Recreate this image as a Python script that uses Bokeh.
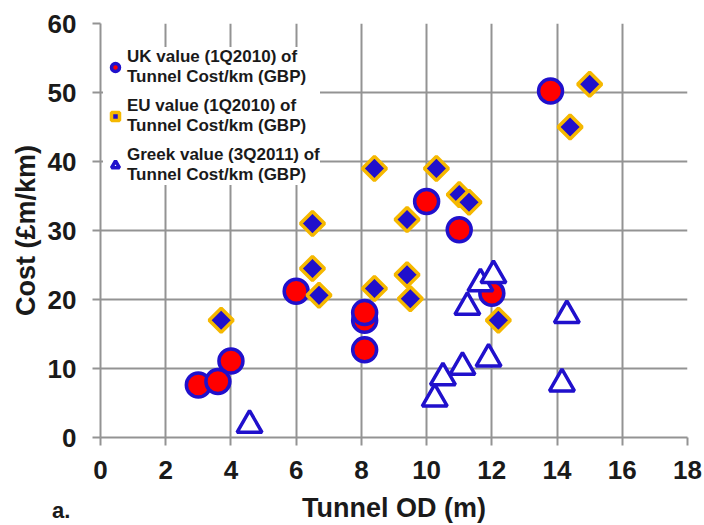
import numpy as np
from bokeh.plotting import figure
from bokeh.layouts import column
from bokeh.models import Legend, LegendItem, Div, FixedTicker, Range1d
from bokeh.embed import file_html
from bokeh.resources import INLINE

# UK value (1Q2010)
uk_od = [3.0, 3.6, 4.0, 6.0, 8.1, 8.1, 8.1, 10.0, 11.0, 12.0, 13.8]
uk_cost = [7.6, 8.1, 11.1, 21.2, 17.0, 18.1, 12.7, 34.2, 30.1, 20.9, 50.2]

# EU value (1Q2010)
eu_od = [3.7, 6.5, 6.7, 6.5, 8.4, 9.4, 9.5, 12.2, 8.4, 10.3, 9.4, 11.0, 11.3, 15.0, 14.4]
eu_cost = [17.0, 24.5, 20.6, 31.0, 21.6, 23.6, 20.1, 17.0, 39.0, 39.0, 31.6, 35.2, 34.1, 51.2, 45.0]

# Greek value (3Q2011)
gr_od = [4.57, 10.25, 10.5, 11.1, 11.9, 11.25, 11.65, 12.05, 14.3, 14.15]
gr_cost = [1.8, 5.6, 8.7, 10.2, 11.4, 18.9, 22.3, 23.5, 17.7, 7.8]

x_ticks = [0, 2, 4, 6, 8, 10, 12, 14, 16, 18]
y_ticks = [0, 10, 20, 30, 40, 50, 60]

labels = ["UK value (1Q2010) of\nTunnel Cost/km (GBP)",
          "EU value (1Q2010) of\nTunnel Cost/km (GBP)",
          "Greek value (3Q2011) of\nTunnel Cost/km (GBP)"]

BLUE = "#2010cc"
RED = "#ff0000"
GOLD = "#f5b800"
GRID = "#939393"
TXT = "#1a1a1a"
FONT = "Liberation Sans"

p = figure(width=704, height=525, output_backend="svg", toolbar_location=None,
           x_range=Range1d(0, 18), y_range=Range1d(0, 60),
           min_border_left=100, min_border_right=17, min_border_top=23, min_border_bottom=88)
p.outline_line_color = None

uk = p.scatter(uk_od, uk_cost, marker="circle", size=24, fill_color=RED,
               line_color=BLUE, line_width=3.5)
gr = p.scatter(gr_od, gr_cost, marker="triangle", size=25, fill_color="white",
               line_color=BLUE, line_width=3.5)
eu = p.scatter(eu_od, eu_cost, marker="square", angle=np.pi / 4, size=17,
               fill_color=BLUE, line_color=GOLD, line_width=3.5)

for ax in (p.xaxis[0], p.yaxis[0]):
    ax.axis_line_color = GRID
    ax.axis_line_width = 2
    ax.major_tick_line_color = GRID
    ax.major_tick_line_width = 2
    ax.major_tick_out = 8
    ax.major_tick_in = 0
    ax.minor_tick_line_color = None
    ax.major_label_text_font = FONT
    ax.major_label_text_font_style = "bold"
    ax.major_label_text_font_size = "26px"
    ax.major_label_text_color = TXT
    ax.axis_label_text_font = FONT
    ax.axis_label_text_font_style = "bold"
    ax.axis_label_text_font_size = "27px"
    ax.axis_label_text_color = TXT

p.xaxis.ticker = FixedTicker(ticks=x_ticks)
p.yaxis.ticker = FixedTicker(ticks=y_ticks)
p.xaxis.axis_label = "Tunnel OD (m)"
p.yaxis.axis_label = "Cost (£m/km)"
p.xaxis.major_label_standoff = 15
p.yaxis.major_label_standoff = 16
p.xaxis.axis_label_standoff = 11
p.yaxis.axis_label_standoff = 4

p.xgrid.ticker = FixedTicker(ticks=x_ticks)
p.ygrid.ticker = FixedTicker(ticks=y_ticks)
for g in (p.xgrid[0], p.ygrid[0]):
    g.grid_line_color = GRID
    g.grid_line_width = 2

legend = Legend(items=[LegendItem(label=labels[0], renderers=[uk]),
                       LegendItem(label=labels[1], renderers=[eu]),
                       LegendItem(label=labels[2], renderers=[gr])],
                location=(3, 252), orientation="vertical",
                background_fill_color="white", background_fill_alpha=1.0,
                border_line_color=None, padding=4, spacing=9, margin=0,
                glyph_width=24, glyph_height=20, label_standoff=0,
                label_text_font=FONT, label_text_font_style="bold",
                label_text_font_size="17px", label_text_color=TXT,
                label_text_line_height=1.1)
p.add_layout(legend)

panel_tag = Div(text="a.", margin=(-27, 0, 0, 52),
                styles={"font-family": FONT, "font-weight": "bold",
                        "font-size": "22px", "color": TXT, "line-height": "1.15"})

layout = column(p, panel_tag, spacing=0)

open("out.html", "w").write(file_html(layout, INLINE))
